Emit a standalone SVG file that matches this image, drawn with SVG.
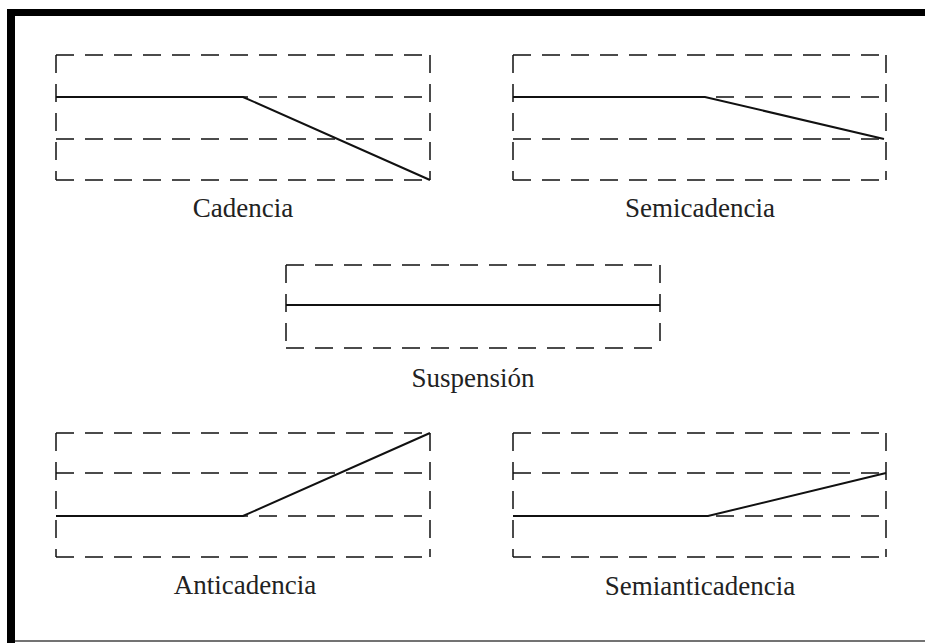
<svg xmlns="http://www.w3.org/2000/svg" width="925" height="643" viewBox="0 0 925 643">
<style>
.d{stroke:#111;stroke-width:1.5;stroke-dasharray:18 11;fill:none}
.s{stroke:#111;stroke-width:2;fill:none}
.t{font-family:"Liberation Serif","Times New Roman",serif;font-size:27px;fill:#222;text-anchor:middle}
</style>
<rect x="0" y="0" width="925" height="643" fill="#fff"/>
<g id="frame">
<rect x="7" y="9" width="918" height="7" fill="#000"/>
<rect x="7" y="9" width="8" height="634" fill="#000"/>
<line x1="15" y1="641" x2="925" y2="641" stroke="#444" stroke-width="1.5"/>
</g>
<g id="cadencia">
<path class="d" d="M56 55H430M56 97H430M56 139H430M56 180H430M56 55V180M430 55V180"/>
<path class="s" d="M56 97H243L430 180"/>
<text class="t" x="243" y="217">Cadencia</text>
</g>
<g id="semicadencia">
<path class="d" d="M513 55H886M513 97H886M513 139H886M513 180H886M513 55V180M886 55V180"/>
<path class="s" d="M513 97H705L884 139"/>
<text class="t" x="700" y="217">Semicadencia</text>
</g>
<g id="suspension">
<path class="d" d="M286 265H660M286 348H660M286 265V348M660 265V348"/>
<path class="s" d="M286 305H660"/>
<text class="t" x="473" y="387">Suspensión</text>
</g>
<g id="anticadencia">
<path class="d" d="M56 433H430M56 473H430M56 516H430M56 557H430M56 433V557M430 433V557"/>
<path class="s" d="M56 516H243L430 433"/>
<text class="t" x="245" y="594">Anticadencia</text>
</g>
<g id="semianticadencia">
<path class="d" d="M513 433H886M513 473H886M513 516H886M513 557H886M513 433V557M886 433V557"/>
<path class="s" d="M513 516H708L886 473"/>
<text class="t" x="700" y="595">Semianticadencia</text>
</g>
<g id="connectors"/>
</svg>
